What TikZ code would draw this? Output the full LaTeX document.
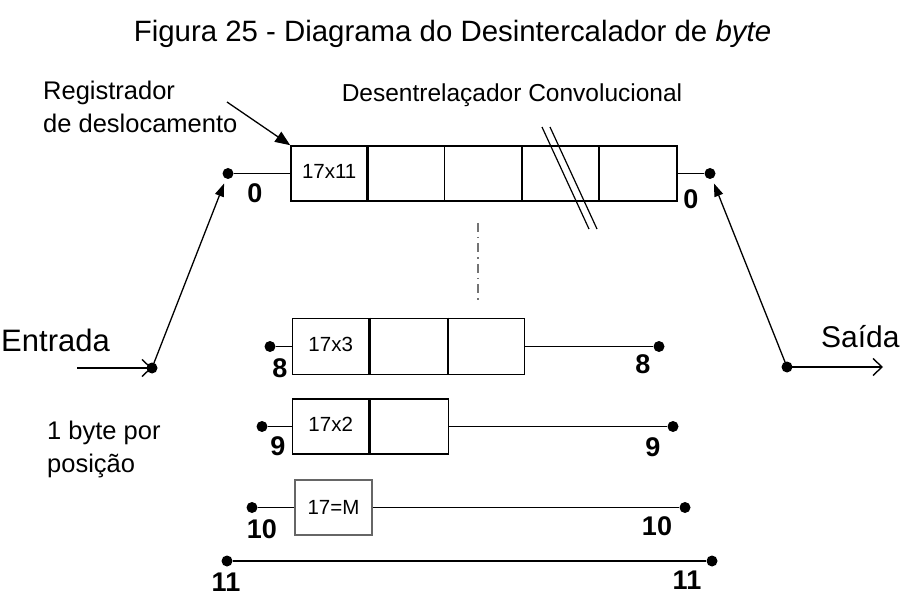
\documentclass[tikz,border=0pt]{standalone}
\usepackage{fontspec}
\setmainfont{Liberation Sans}
\usetikzlibrary{arrows.meta}

\tikzset{
  registro/.style={draw, line width=1.6pt, minimum height=55pt, inner sep=0pt},
  pino/.style={circle, fill, inner sep=0pt, minimum size=11pt},
  fio/.style={line width=1.5pt},
  numero/.style={font=\bfseries\fontsize{27}{27}\selectfont, inner sep=0pt},
  celula/.style={font=\fontsize{20.5}{20.5}\selectfont, inner sep=0pt},
  rotulo/.style={font=\fontsize{25.5}{33}\selectfont, inner sep=0pt, align=left},
  chave/.style={line width=1.3pt, shorten >=5pt, -{Triangle[length=13pt,width=9pt]}},
  fluxo/.style={line width=1.5pt, -{Straight Barb[length=9pt,width=17pt,line width=1.4pt]}},
}

\begin{document}
\begin{tikzpicture}[x=1pt,y=-1pt]
\useasboundingbox (0,0) rectangle (903,596);

\node[font=\fontsize{29.4}{30}\selectfont, anchor=base] (titulo) at (452.5,42) {Figura 25 - Diagrama do Desintercalador de \textit{byte}};

% registradores
\node[registro, minimum width=386pt] (r0) at (484,173.5) {};
\foreach \i in {2,3,4}
  \draw[line width=1.6pt] ([xshift=77.2*\i pt]r0.north west)--([xshift=77.2*\i pt]r0.south west);
\draw[line width=3pt] ([xshift=77.2pt]r0.north west)--([xshift=77.2pt]r0.south west);
\node[celula] (c0) at ([xshift=39pt,yshift=2pt]r0.west) {17x11};

\node[registro, minimum width=232pt, minimum height=56pt] (r8) at (408.5,346.5) {};
\draw[line width=3pt] ([xshift=78pt]r8.north west)--([xshift=78pt]r8.south west);
\draw[line width=1.6pt] ([xshift=156pt]r8.north west)--([xshift=156pt]r8.south west);
\node[celula] (c8) at ([xshift=39pt,yshift=2pt]r8.west) {17x3};

\node[registro, minimum width=156pt] (r9) at (370.5,426.5) {};
\draw[line width=3pt] ([xshift=78pt]r9.north west)--([xshift=78pt]r9.south west);
\node[celula] (c9) at ([xshift=39pt,yshift=2pt]r9.west) {17x2};

\node[registro, draw=black!60, minimum width=77pt] (r10) at (333.5,507.5) {};
\node[celula] (c10) at (r10) {17=M};

% contatos da chave
\node[pino] (e0) at (228,173.5) {};
\node[pino] (s0) at (710,173.5) {};
\node[pino] (e8) at (270,346.5) {};
\node[pino] (s8) at (659,346.5) {};
\node[pino] (e9) at (262,426.5) {};
\node[pino] (s9) at (673,426.5) {};
\node[pino] (e10) at (252,507.5) {};
\node[pino] (s10) at (685,507.5) {};
\node[pino] (e11) at (227,561) {};
\node[pino] (s11) at (712,561) {};
\node[pino] (ent) at (152,368) {};
\node[pino] (sai) at (787,367) {};

\draw[fio] (e0)--(r0);
\draw[fio] (r0)--(s0);
\draw[fio] (e8)--(r8);
\draw[fio] (r8)--(s8);
\draw[fio] (e9)--(r9);
\draw[fio] (r9)--(s9);
\draw[fio] (e10)--(r10);
\draw[fio] (r10)--(s10);
\draw[fio] (e11)--(s11);

\node[numero] (n0e) at (255,193) {0};
\node[numero] (n0s) at (691,199) {0};
\node[numero] (n8e) at (280,368) {8};
\node[numero] (n8s) at (643,364) {8};
\node[numero] (n9e) at (278,446) {9};
\node[numero] (n9s) at (653,447) {9};
\node[numero] (n10e) at (262,529) {10};
\node[numero] (n10s) at (657,526) {10};
\node[numero] (n11e) at (226,582) {11};
\node[numero] (n11s) at (687,580) {11};

% chaves de entrada e saida
\coordinate (fonte) at (77,368);
\coordinate (destino) at (883,367);
\draw[fluxo] (fonte)--(ent.center);
\draw[fluxo] (sai.center)--(destino);
\draw[chave] (ent.center)--(e0);
\draw[chave] (sai.center)--(s0);

% ramos omitidos
\draw[line width=1.6pt, black!55, dash pattern=on 9pt off 5pt on 1.5pt off 5pt] (478,223)--(478,300);
\draw[line width=1.2pt] (542,127)--(589,229) (550,127)--(597,229);

% textos
\node[rotulo, anchor=west] (reg) at (43,107) {Registrador\\de deslocamento};
\coordinate (seta0) at (227,102);
\draw[line width=1.3pt, -{Triangle[length=15pt,width=12pt]}] (seta0)--(r0.north west);
\node[rotulo, font=\fontsize{24.5}{32}\selectfont] (conv) at (512,95) {Desentrelaçador Convolucional};
\node[rotulo, anchor=west] (pos) at (47,449) {1 byte por\\posição};
\node[font=\fontsize{31}{31}\selectfont, anchor=base east, inner sep=0pt] (entrada) at (110,352) {Entrada};
\node[font=\fontsize{30}{30}\selectfont, anchor=base west, inner sep=0pt] (saida) at (821,348) {Saída};
\end{tikzpicture}
\end{document}
